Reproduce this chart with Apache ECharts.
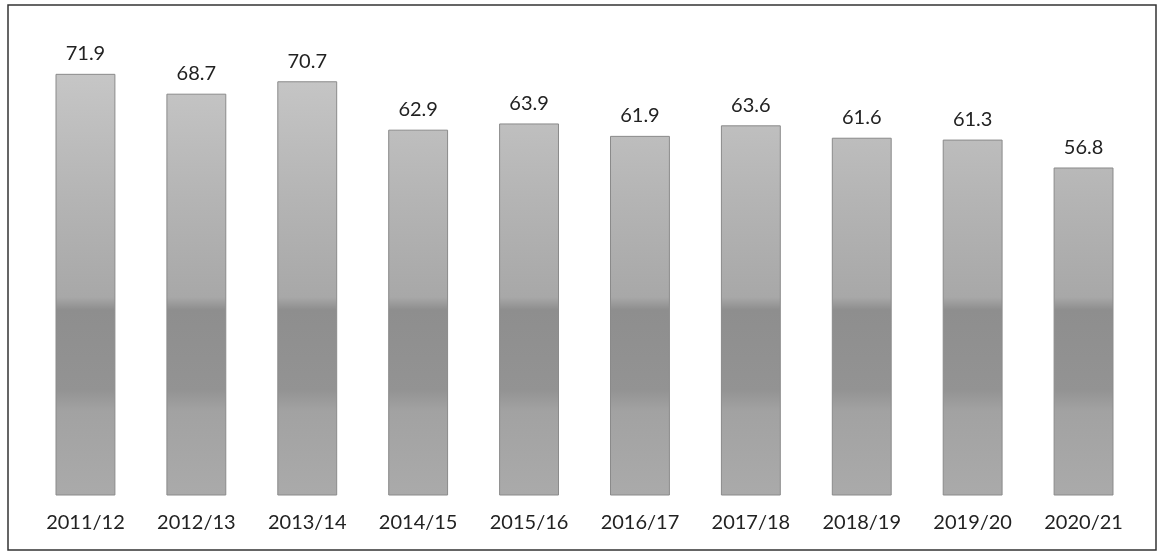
<!DOCTYPE html>
<html>
<head>
<meta charset="utf-8">
<script src="https://cdn.jsdelivr.net/npm/echarts@6/dist/echarts.min.js"></script>
<style>
html,body{margin:0;padding:0;background:#fff;}
#chart{width:1159px;height:554px;}
</style>
</head>
<body>
<div id="chart"></div>
<script>
const categories = ['2011/12','2012/13','2013/14','2014/15','2015/16','2016/17','2017/18','2018/19','2019/20','2020/21'];
const values = [71.9, 68.7, 70.7, 62.9, 63.9, 61.9, 63.6, 61.6, 61.3, 56.8];

const chart = echarts.init(document.getElementById('chart'));
const barColor = new echarts.graphic.LinearGradient(0, 74, 0, 495, [
  {offset: 0, color: '#c6c6c6'},
  {offset: 0.3, color: '#b4b4b4'},
  {offset: 0.53, color: '#a8a8a8'},
  {offset: 0.56, color: '#8e8e8e'},
  {offset: 0.75, color: '#939393'},
  {offset: 0.8, color: '#a2a2a2'},
  {offset: 1, color: '#aaaaaa'}
], true);
chart.setOption({
  animation: false,
  backgroundColor: '#ffffff',
  grid: {left: 30, right: 20, top: 36, bottom: 59},
  xAxis: {
    type: 'category',
    data: categories,
    axisLine: {show: false},
    axisTick: {show: false},
    axisLabel: {
      color: '#222',
      fontFamily: 'Lato',
      fontSize: 20,
      margin: 18,
      interval: 0
    }
  },
  yAxis: {
    type: 'value',
    min: 4,
    max: 78,
    show: false,
    splitLine: {show: false}
  },
  series: [{
    type: 'bar',
    data: values,
    barWidth: '54%',
    itemStyle: {
      color: barColor,
      borderColor: '#8a8a8a',
      borderWidth: 1
    },
    label: {
      show: true,
      position: 'top',
      distance: 10,
      color: '#222',
      fontFamily: 'Lato',
      fontSize: 20,
      formatter: p => p.value.toFixed(1)
    }
  }],
  graphic: [{
    type: 'rect',
    shape: {x: 8, y: 5, width: 1148, height: 545},
    style: {fill: 'none', stroke: '#333', lineWidth: 1.5},
    silent: true
  }]
});
</script>
</body>
</html>
